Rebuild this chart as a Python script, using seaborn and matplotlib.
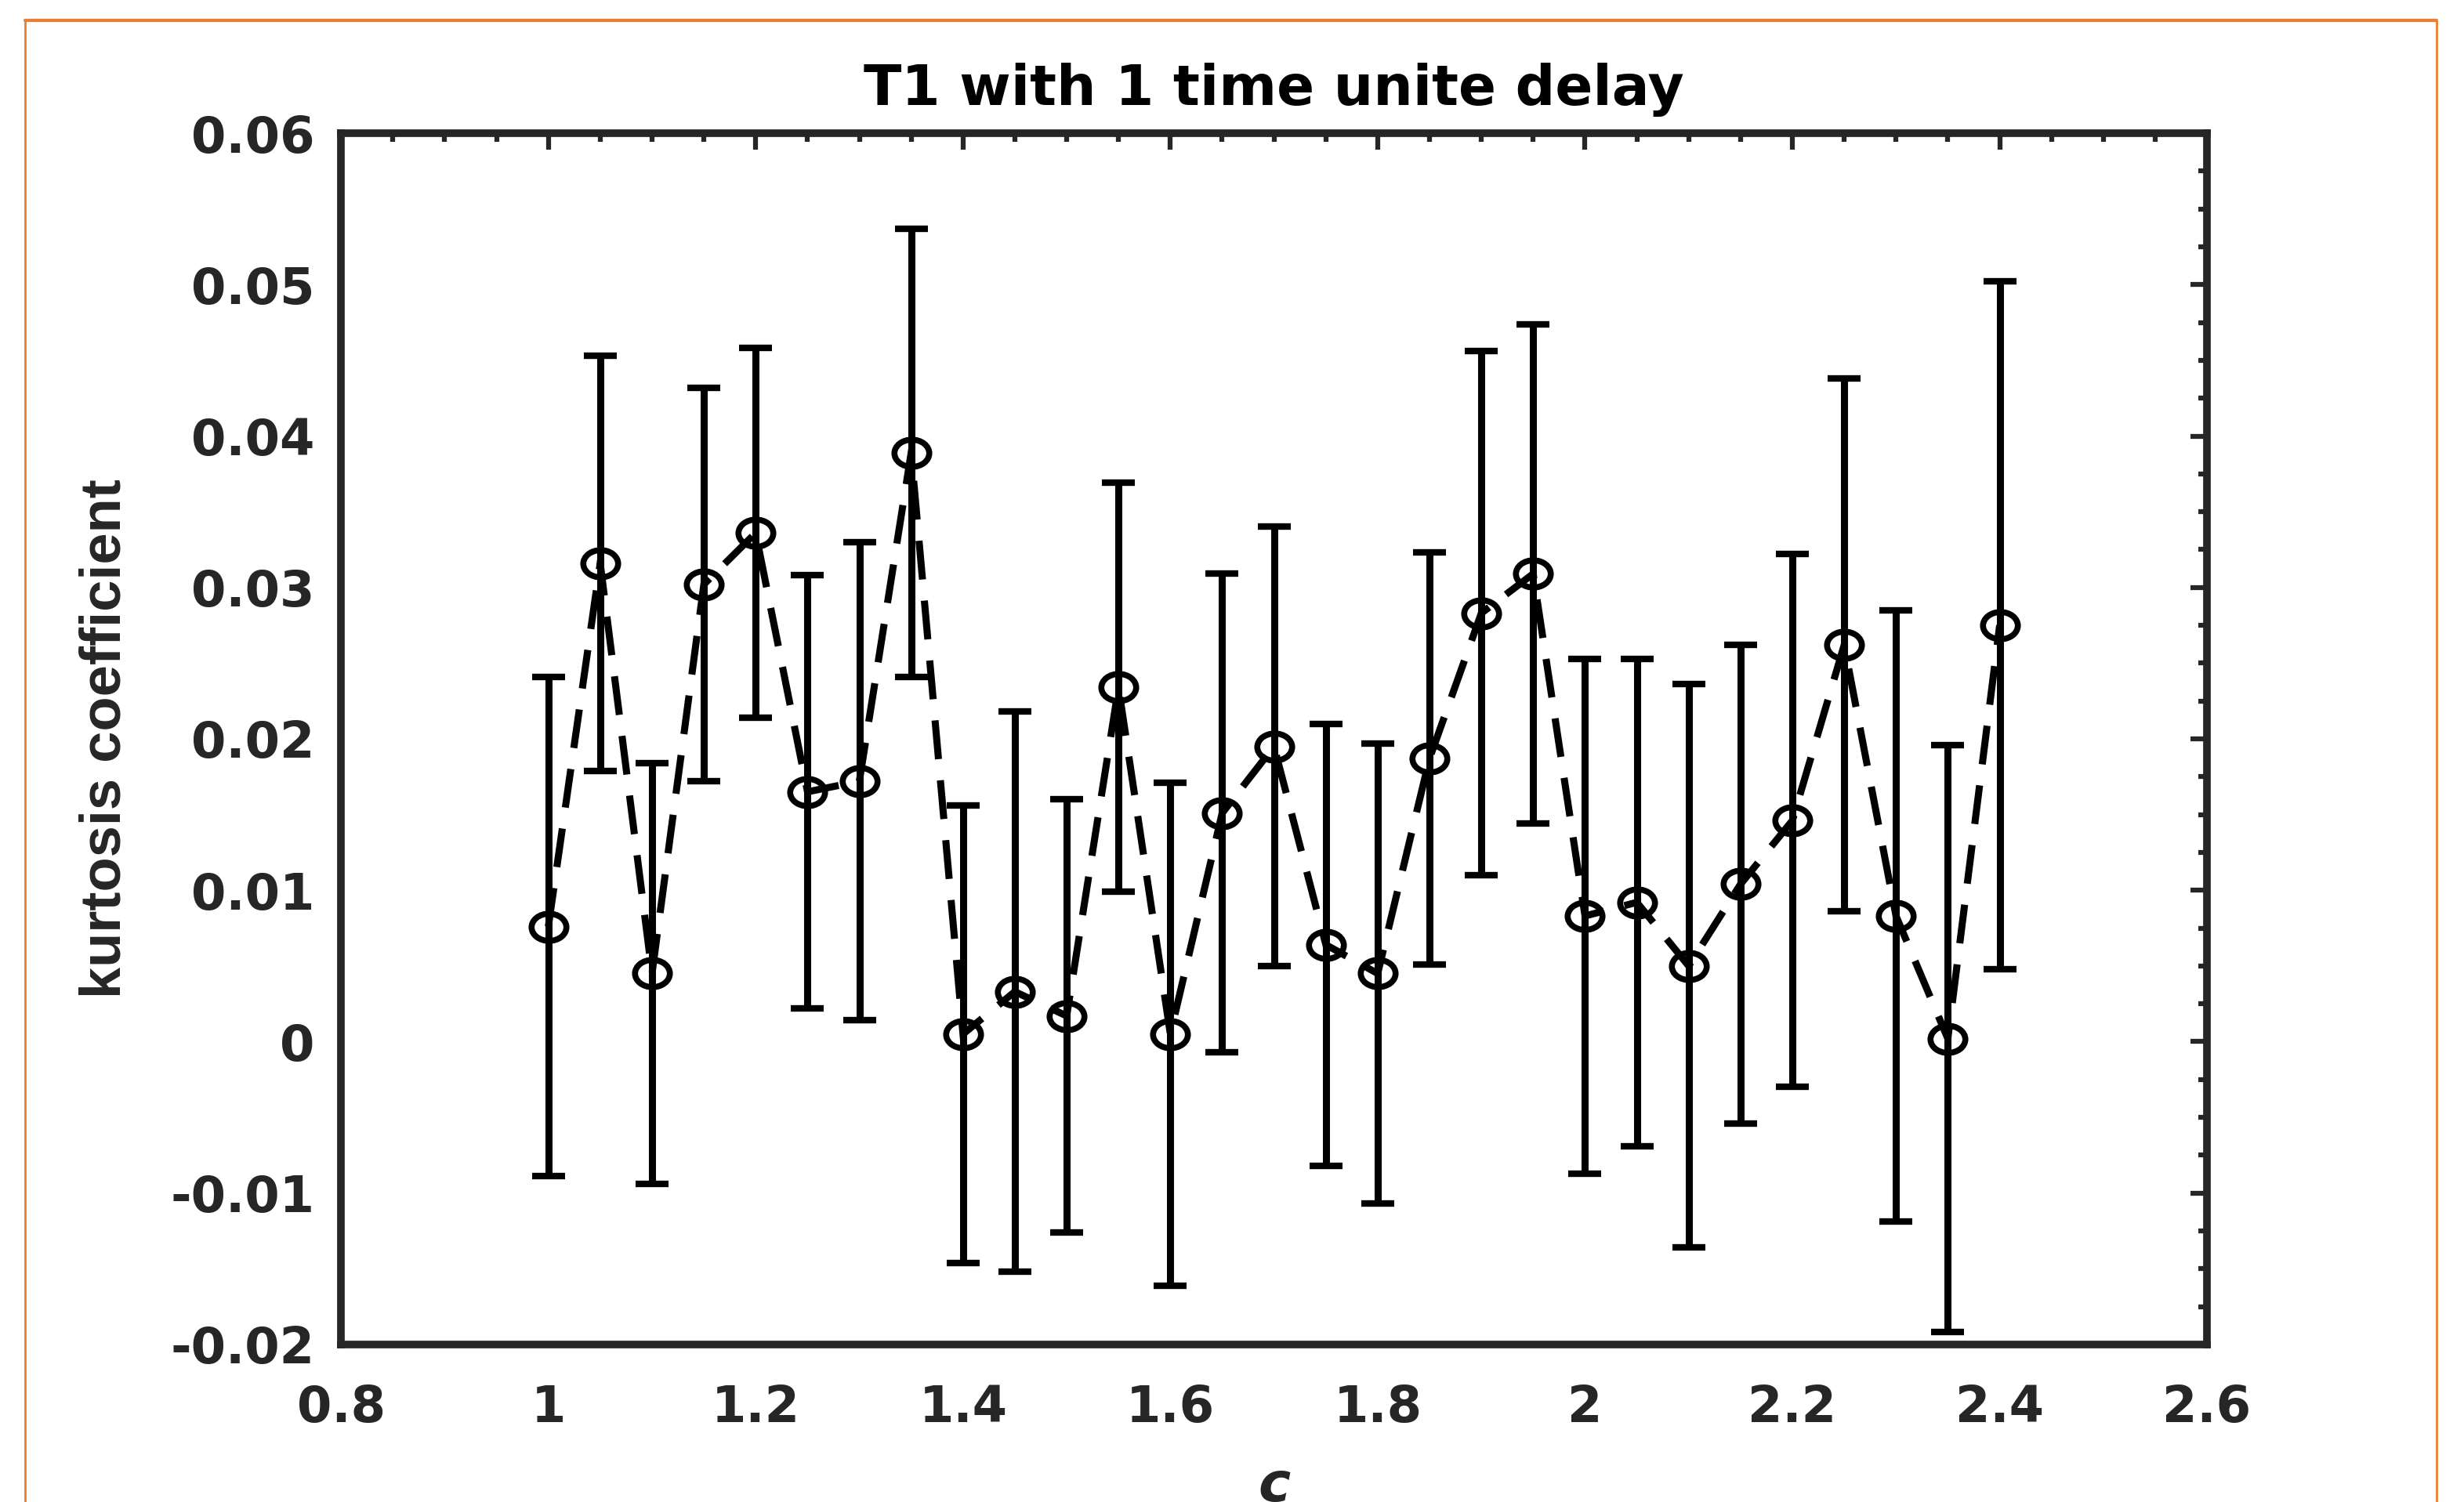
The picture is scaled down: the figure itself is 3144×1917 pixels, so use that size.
import numpy as np
import pandas as pd
import matplotlib
matplotlib.use("Agg")
import matplotlib.pyplot as plt
from matplotlib import font_manager
from matplotlib.path import Path
from matplotlib.lines import Line2D
from matplotlib.ticker import MultipleLocator, FuncFormatter
import seaborn as sns

# values
c_values = [1.00, 1.05, 1.10, 1.15, 1.20, 1.25, 1.30, 1.35, 1.40, 1.45,
            1.50, 1.55, 1.60, 1.65, 1.70, 1.75, 1.80, 1.85, 1.90, 1.95,
            2.00, 2.05, 2.10, 2.15, 2.20, 2.25, 2.30, 2.35, 2.40]
kurtosis = [0.0076, 0.0316, 0.0045, 0.0302, 0.0336, 0.0165, 0.0172, 0.0389, 0.0005, 0.0033,
            0.0017, 0.0234, 0.0005, 0.0151, 0.0195, 0.0064, 0.0045, 0.0187, 0.0283, 0.0309,
            0.0083, 0.0092, 0.0050, 0.0104, 0.0146, 0.0262, 0.0083, 0.0002, 0.0275]
errors = [0.0165, 0.0137, 0.0139, 0.0130, 0.0122, 0.0143, 0.0158, 0.0148, 0.0151, 0.0185,
          0.0143, 0.0135, 0.0166, 0.0158, 0.0145, 0.0146, 0.0152, 0.0136, 0.0173, 0.0165,
          0.0170, 0.0161, 0.0186, 0.0158, 0.0176, 0.0176, 0.0202, 0.0194, 0.0227]

title = "T1 with 1 time unite delay"
x_label = "c"
y_label = "kurtosis coefficient"

df = pd.DataFrame({"c": c_values, "k": kurtosis, "err": errors})

sns.set_theme(style="white")
plt.rcParams["font.family"] = ["DejaVu Sans"]
plt.rcParams["font.weight"] = "bold"

# the y label in the original is a narrow face (picture was stretched sideways)
try:
    font_manager.findfont("Liberation Sans Narrow", fallback_to_default=False)
    ylab_font, ylab_size = "Liberation Sans Narrow", 62
except Exception:
    ylab_font, ylab_size = "Liberation Sans", 52

axis_color = "#262626"

fig = plt.figure(figsize=(31.44, 19.17), dpi=100)
ax = fig.add_axes([0.1384, 0.1049, 0.7573, 0.8064])

# ellipse-shaped open marker
circ = Path.unit_circle()
ellipse = Path(circ.vertices * np.array([1.0, 0.78]), circ.codes)

ax.errorbar(df["c"], df["k"], yerr=df["err"], fmt="none", ecolor="black",
            elinewidth=6.5, capsize=15, capthick=6, zorder=2)
sns.lineplot(data=df, x="c", y="k", ax=ax, color="black", linewidth=6.5,
             linestyle=(0, (5.5, 3)), dash_joinstyle="miter",
             marker=ellipse, markersize=32,
             markerfacecolor="none", markeredgecolor="black",
             markeredgewidth=5.5, sort=False, zorder=3)

ax.set_xlim(0.8, 2.6)
ax.set_ylim(-0.02, 0.06)
ax.xaxis.set_major_locator(MultipleLocator(0.2))
ax.xaxis.set_minor_locator(MultipleLocator(0.05))
ax.yaxis.set_major_locator(MultipleLocator(0.01))
ax.yaxis.set_minor_locator(MultipleLocator(0.0025))
fmt = FuncFormatter(lambda v, p: "%g" % round(v, 4))
ax.xaxis.set_major_formatter(fmt)
ax.yaxis.set_major_formatter(fmt)

ax.tick_params(which="both", direction="in", top=True, right=True,
               color=axis_color, labelcolor=axis_color)
ax.tick_params(which="major", length=15, width=4.5, labelsize=46)
ax.tick_params(which="minor", length=8, width=4.5)
ax.tick_params(axis="x", which="major", pad=36)
ax.tick_params(axis="y", which="major", pad=24)
for side in ax.spines.values():
    side.set_visible(True)
    side.set_color(axis_color)
    side.set_linewidth(7)

ax.set_title(title, fontsize=51, fontweight="bold", pad=26, color="black")
ax.set_xlabel(x_label, fontsize=50, fontweight="bold", style="italic",
              color=axis_color)
ax.xaxis.set_label_coords(0.5, -0.095)
ax.set_ylabel(y_label, fontsize=ylab_size, fontweight="bold",
              family=ylab_font, color=axis_color)
ax.yaxis.set_label_coords(-0.112, 0.5)

# orange frame around the picture
orange = "#ED7D31"
fig.add_artist(Line2D([0.0102, 0.0102], [-0.01, 0.9864], color=orange, lw=2,
                      transform=fig.transFigure))
fig.add_artist(Line2D([0.9889, 0.9889], [-0.01, 0.9864], color=orange, lw=2,
                      transform=fig.transFigure))
fig.add_artist(Line2D([0.0102, 0.9889], [0.9864, 0.9864], color=orange, lw=3,
                      transform=fig.transFigure))

fig.savefig("out.png", dpi=100)
